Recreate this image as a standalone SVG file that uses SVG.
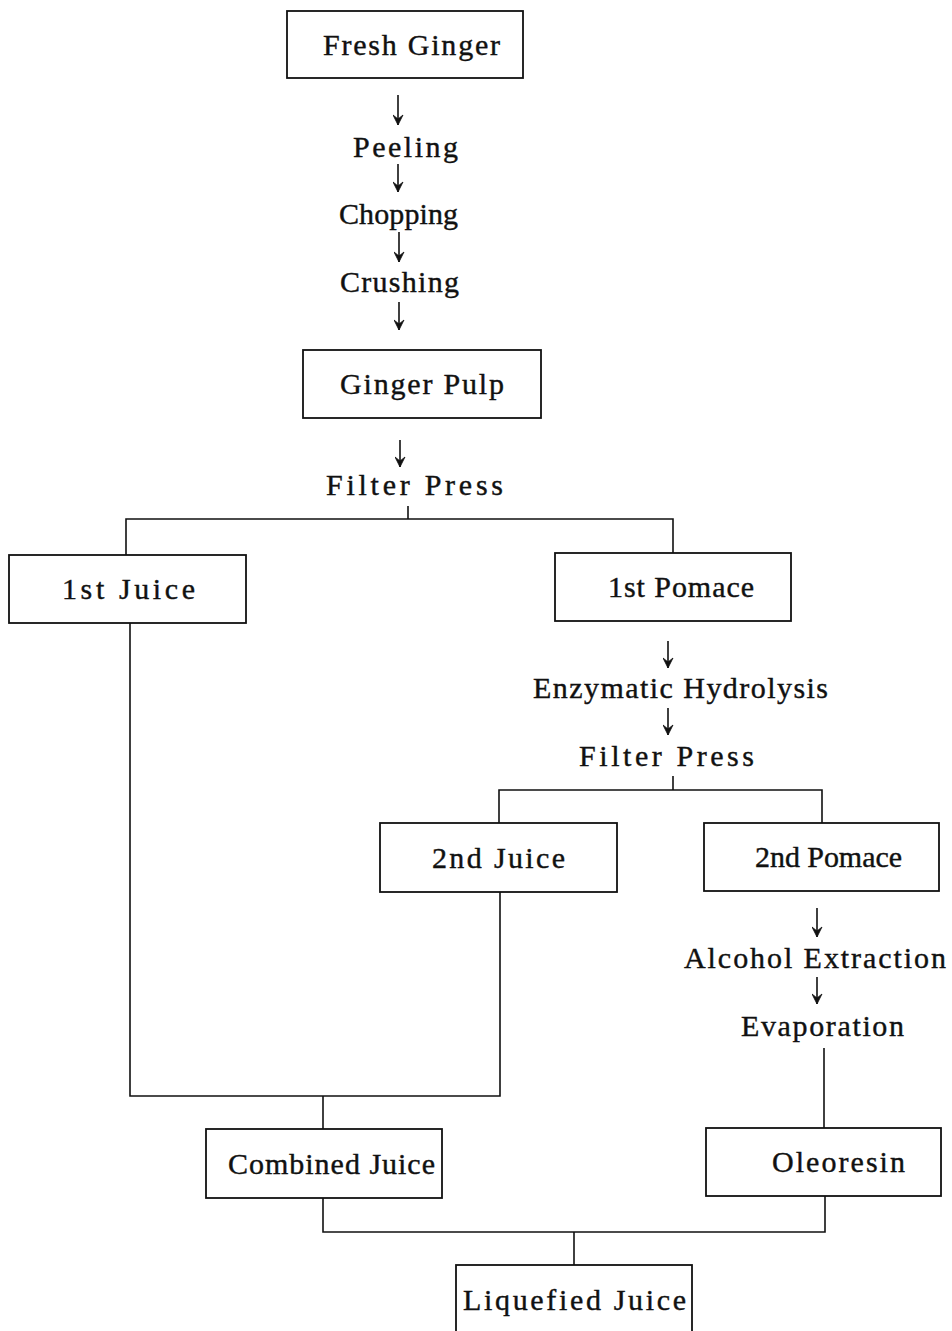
<svg xmlns="http://www.w3.org/2000/svg" width="952" height="1331" viewBox="0 0 952 1331">
<style>
.box{fill:#fff;stroke:#111;stroke-width:1.8}
.ln{fill:none;stroke:#111;stroke-width:1.6}
.t{font-family:"Liberation Serif","DejaVu Serif",serif;font-size:30px;fill:#111;stroke:#111;stroke-width:0.4}
</style>
<defs>
<marker id="ah" markerWidth="12" markerHeight="14" refX="5" refY="12" orient="0" markerUnits="userSpaceOnUse">
<path d="M0,2 L5,12 L10,2 L5,6 Z" fill="#111" stroke="#111" stroke-width="0.8"/>
</marker>
</defs>
<rect width="952" height="1331" fill="#fff"/>
<g id="connectors">
<line class="ln" x1="398" y1="95" x2="398" y2="125" marker-end="url(#ah)"/>
<line class="ln" x1="398" y1="164" x2="398" y2="192" marker-end="url(#ah)"/>
<line class="ln" x1="399" y1="232" x2="399" y2="262" marker-end="url(#ah)"/>
<line class="ln" x1="399" y1="302" x2="399" y2="330" marker-end="url(#ah)"/>
<line class="ln" x1="400" y1="440" x2="400" y2="467" marker-end="url(#ah)"/>
<line class="ln" x1="408" y1="506" x2="408" y2="519"/>
<polyline class="ln" points="126,555 126,519 673,519 673,553"/>
<line class="ln" x1="668" y1="641" x2="668" y2="668" marker-end="url(#ah)"/>
<line class="ln" x1="668" y1="708" x2="668" y2="735" marker-end="url(#ah)"/>
<line class="ln" x1="673" y1="776" x2="673" y2="790"/>
<polyline class="ln" points="499,823 499,790 822,790 822,823"/>
<line class="ln" x1="817" y1="908" x2="817" y2="937" marker-end="url(#ah)"/>
<line class="ln" x1="817" y1="977" x2="817" y2="1004" marker-end="url(#ah)"/>
<line class="ln" x1="824" y1="1048" x2="824" y2="1128"/>
<polyline class="ln" points="130,623 130,1096 500,1096 500,892"/>
<line class="ln" x1="323" y1="1096" x2="323" y2="1129"/>
<polyline class="ln" points="323,1198 323,1232 825,1232 825,1196"/>
<line class="ln" x1="574" y1="1232" x2="574" y2="1265"/>
</g>
<g id="fresh-ginger">
<rect class="box" x="287" y="11" width="236" height="67"/>
<text class="t" x="323" y="55" textLength="177" lengthAdjust="spacing">Fresh Ginger</text>
</g>
<g id="peeling"><text class="t" x="353" y="157" textLength="105" lengthAdjust="spacing">Peeling</text></g>
<g id="chopping"><text class="t" x="339" y="224" textLength="119" lengthAdjust="spacing">Chopping</text></g>
<g id="crushing"><text class="t" x="340" y="292" textLength="119" lengthAdjust="spacing">Crushing</text></g>
<g id="ginger-pulp">
<rect class="box" x="303" y="350" width="238" height="68"/>
<text class="t" x="340" y="394" textLength="164" lengthAdjust="spacing">Ginger Pulp</text>
</g>
<g id="filter-press-1"><text class="t" x="326" y="495" textLength="177" lengthAdjust="spacing">Filter Press</text></g>
<g id="first-juice">
<rect class="box" x="9" y="555" width="237" height="68"/>
<text class="t" x="62" y="599" textLength="133" lengthAdjust="spacing">1st Juice</text>
</g>
<g id="first-pomace">
<rect class="box" x="555" y="553" width="236" height="68"/>
<text class="t" x="608" y="597" textLength="146" lengthAdjust="spacing">1st Pomace</text>
</g>
<g id="enzymatic-hydrolysis"><text class="t" x="533" y="698" textLength="295" lengthAdjust="spacing">Enzymatic Hydrolysis</text></g>
<g id="filter-press-2"><text class="t" x="579" y="766" textLength="175" lengthAdjust="spacing">Filter Press</text></g>
<g id="second-juice">
<rect class="box" x="380" y="823" width="237" height="69"/>
<text class="t" x="432" y="868" textLength="133" lengthAdjust="spacing">2nd Juice</text>
</g>
<g id="second-pomace">
<rect class="box" x="704" y="823" width="235" height="68"/>
<text class="t" x="755" y="867" textLength="147" lengthAdjust="spacing">2nd Pomace</text>
</g>
<g id="alcohol-extraction"><text class="t" x="684" y="968" textLength="262" lengthAdjust="spacing">Alcohol Extraction</text></g>
<g id="evaporation"><text class="t" x="741" y="1036" textLength="163" lengthAdjust="spacing">Evaporation</text></g>
<g id="combined-juice">
<rect class="box" x="206" y="1129" width="236" height="69"/>
<text class="t" x="228" y="1174" textLength="207" lengthAdjust="spacing">Combined Juice</text>
</g>
<g id="oleoresin">
<rect class="box" x="706" y="1128" width="235" height="68"/>
<text class="t" x="772" y="1172" textLength="133" lengthAdjust="spacing">Oleoresin</text>
</g>
<g id="liquefied-juice">
<rect class="box" x="456" y="1265" width="236" height="80"/>
<text class="t" x="463" y="1310" textLength="223" lengthAdjust="spacing">Liquefied Juice</text>
</g>
</svg>
